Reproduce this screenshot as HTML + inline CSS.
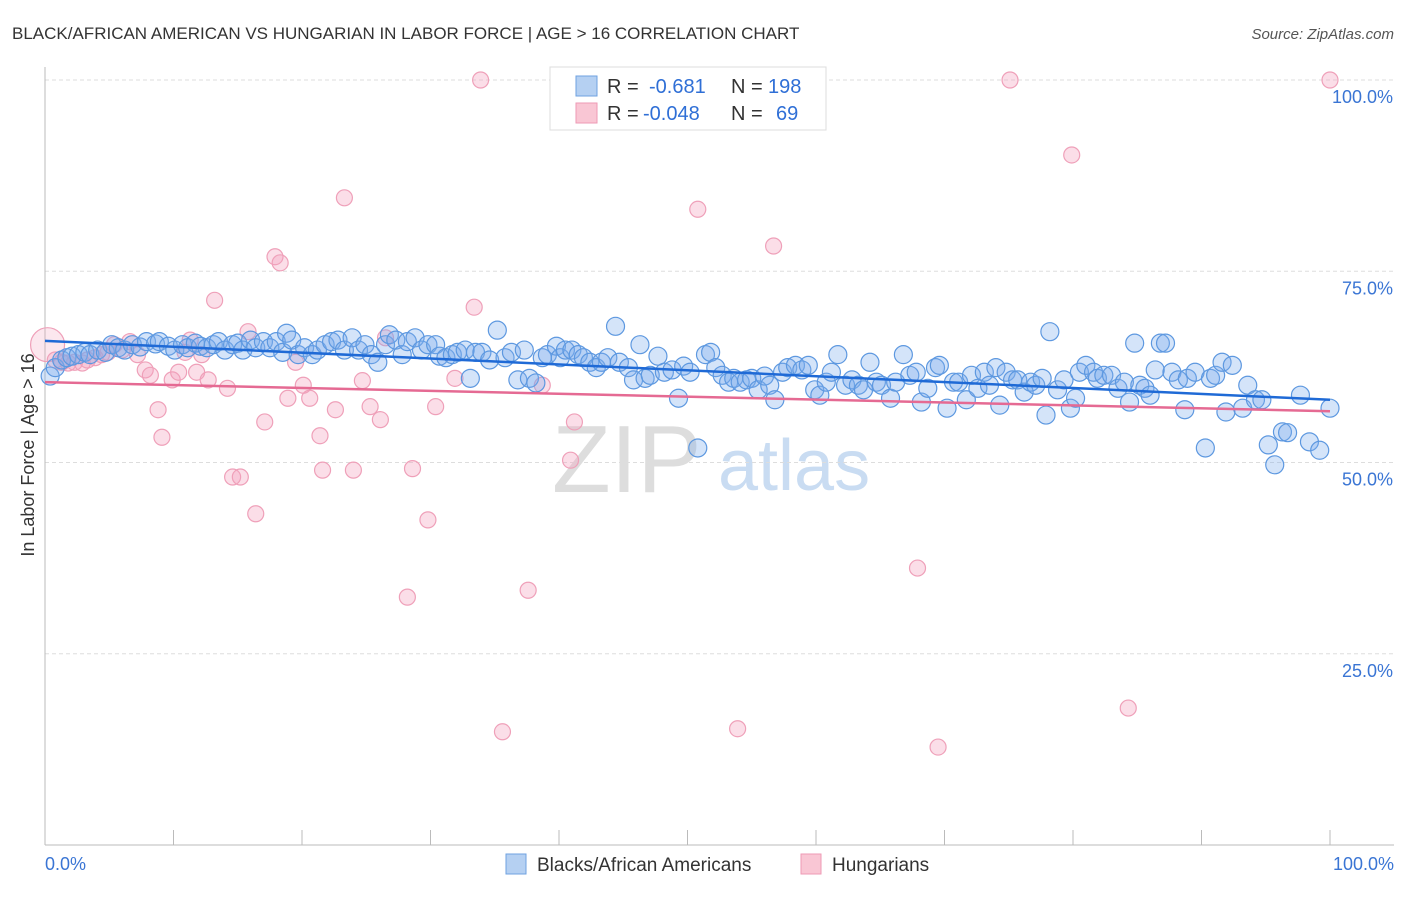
<!DOCTYPE html>
<html><head><meta charset="utf-8"><style>
body{margin:0;background:#fff;font-family:"Liberation Sans",sans-serif}
svg text{font-family:"Liberation Sans",sans-serif}
</style></head><body>
<svg id="c" width="1406" height="892" xmlns="http://www.w3.org/2000/svg">
<text x="12" y="39" font-size="17" fill="#333">BLACK/AFRICAN AMERICAN VS HUNGARIAN IN LABOR FORCE | AGE &gt; 16 CORRELATION CHART</text>
<text x="1394" y="39" font-size="15" fill="#555" text-anchor="end" font-style="italic">Source: ZipAtlas.com</text>
<g>
<text x="552" y="492" font-size="96" fill="#ddd" font-family="Liberation Serif">ZIP</text>
<text x="718" y="490" font-size="72" fill="#c9dcf2">atlas</text>
</g>
<g id="grid"></g><g id="axes"></g><g id="pts"></g><g id="trend"></g>
<g>
<rect x="550" y="67" width="276" height="63" fill="#fff" stroke="#ddd"/>
<rect x="576" y="76" width="21" height="20" fill="#b5d0f2" stroke="#6fa2e0"/>
<rect x="576" y="103" width="21" height="20" fill="#f9c6d4" stroke="#ee9ab5"/>
<text y="93" font-size="20" fill="#333"><tspan x="607">R =</tspan><tspan x="649" fill="#2f6fd6">-0.681</tspan><tspan x="731">N =</tspan><tspan x="768" fill="#2f6fd6">198</tspan></text>
<text y="120" font-size="20" fill="#333"><tspan x="607">R =</tspan><tspan x="643" fill="#2f6fd6">-0.048</tspan><tspan x="731">N =</tspan><tspan x="776" fill="#2f6fd6">69</tspan></text>
</g>
<g>
<rect x="506" y="854" width="20" height="20" fill="#b5d0f2" stroke="#6fa2e0"/>
<text x="537" y="871" font-size="19" fill="#333">Blacks/African Americans</text>
<rect x="801" y="854" width="20" height="20" fill="#f9c6d4" stroke="#ee9ab5"/>
<text x="832" y="871" font-size="19" fill="#333">Hungarians</text>
</g>
<text transform="translate(34,455) rotate(-90)" font-size="18" fill="#333" text-anchor="middle">In Labor Force | Age &gt; 16</text>
</svg>
<script>
const blueX=[0.4,0.8,1.3,1.7,2.1,2.6,3.1,3.5,4.1,4.7,5.2,5.7,6.2,6.8,7.4,7.9,8.6,8.9,9.6,10.1,10.7,11.1,11.7,12.1,12.6,13.1,13.5,14.0,14.6,15.0,15.4,16.0,16.4,17.0,17.5,18.0,18.5,18.8,19.2,19.7,20.2,20.8,21.2,21.8,22.3,22.8,23.3,23.9,24.4,24.9,25.4,25.9,26.5,26.8,27.3,27.8,28.2,28.8,29.3,29.8,30.4,30.7,31.2,31.7,32.1,32.7,33.1,33.5,34.0,34.6,35.2,35.8,36.3,36.8,37.3,37.7,38.2,38.7,39.1,39.8,40.1,40.5,41.0,41.5,41.9,42.4,42.9,43.3,43.8,44.4,44.7,45.4,45.8,46.3,46.7,47.1,47.7,48.2,48.8,49.3,49.7,50.2,50.8,51.4,51.8,52.2,52.7,53.2,53.6,54.1,54.6,55.0,55.5,56.0,56.4,56.8,57.4,57.8,58.4,58.9,59.4,59.9,60.3,60.8,61.2,61.7,62.3,62.8,63.3,63.7,64.2,64.7,65.1,65.8,66.2,66.8,67.3,67.8,68.2,68.7,69.3,69.6,70.2,70.7,71.1,71.7,72.1,72.6,73.1,73.5,74.0,74.3,74.8,75.3,75.7,76.2,76.7,77.1,77.6,77.9,78.2,78.8,79.3,79.8,80.2,80.5,81.0,81.6,81.9,82.4,83.0,83.5,84.0,84.4,84.8,85.2,85.6,86.0,86.4,86.8,87.2,87.7,88.2,88.7,88.9,89.5,90.3,90.7,91.1,91.6,91.9,92.4,93.2,93.6,94.2,94.7,95.2,95.7,96.3,96.7,97.7,98.4,99.2,100];
const blueY=[61.3,62.4,63.4,63.7,63.9,64.1,64.4,64.1,64.7,64.4,65.4,65.0,64.7,65.4,65.1,65.8,65.5,65.8,65.2,64.7,65.4,65.0,65.6,65.2,65.0,65.4,65.8,64.7,65.4,65.6,64.7,66.0,65.0,65.8,65.0,65.8,64.4,66.9,66.0,64.1,65.0,64.1,64.7,65.4,65.8,66.0,64.7,66.3,64.7,65.4,64.1,63.1,65.4,66.7,66.0,64.1,65.8,66.3,64.7,65.4,65.4,63.9,63.7,64.1,64.4,64.7,61.0,64.4,64.4,63.4,67.3,63.7,64.4,60.8,64.7,61.0,60.4,63.7,64.1,65.2,63.7,64.7,64.7,64.1,63.7,63.1,62.4,63.1,63.7,67.8,63.1,62.4,60.8,65.4,61.0,61.4,63.9,61.8,62.1,58.4,62.6,61.8,51.9,64.1,64.4,62.4,61.4,60.5,61.0,60.5,60.8,61.0,59.5,61.3,60.1,58.2,61.8,62.4,62.7,62.1,62.7,59.5,58.8,60.5,61.8,64.1,60.1,60.8,60.1,59.5,63.1,60.5,60.1,58.4,60.5,64.1,61.4,61.8,57.9,59.7,62.4,62.7,57.1,60.5,60.5,58.2,61.4,59.7,61.8,60.1,62.4,57.5,61.8,60.8,60.8,59.2,60.5,60.1,61.0,56.2,67.1,59.5,60.8,57.1,58.4,61.8,62.7,61.8,61.0,61.4,61.4,59.7,60.5,57.9,65.6,60.1,59.7,58.8,62.1,65.6,65.6,61.8,60.8,56.9,61.0,61.8,51.9,61.0,61.4,63.1,56.6,62.7,57.1,60.1,58.2,58.2,52.3,49.7,54.0,53.9,58.8,52.7,51.6,57.1];
const pinkX=[0.2,0.8,1.3,1.8,2.3,2.9,3.3,3.9,4.4,4.9,5.4,6.0,6.6,7.2,7.8,8.2,8.8,9.1,9.9,10.4,10.9,11.3,11.8,12.2,12.7,13.2,14.2,14.6,15.2,16.4,17.1,17.9,18.3,15.8,18.9,19.5,20.1,20.6,21.4,21.6,22.6,23.3,24.0,24.7,25.3,26.1,26.5,28.2,28.6,29.8,30.4,31.9,33.4,33.9,35.6,37.6,38.7,40.9,41.2,50.8,53.9,56.7,67.9,69.5,75.1,79.9,84.3,100];
const pinkY=[65.4,63.4,63.1,63.0,63.1,63.0,63.4,63.7,64.1,64.4,65.4,64.7,65.8,64.1,62.1,61.4,56.9,53.3,60.8,61.8,64.4,66.0,61.8,64.1,60.8,71.2,59.7,48.1,48.1,43.3,55.3,76.9,76.1,67.1,58.4,63.1,60.1,58.4,53.5,49.0,56.9,84.6,49.0,60.7,57.3,55.6,66.3,32.4,49.2,42.5,57.3,61.0,70.3,100,14.8,33.3,60.1,50.3,55.3,83.1,15.2,78.3,36.2,12.8,100,90.2,17.9,100];
const blueTrend=[65.9,58.2];
const pinkTrend=[60.5,56.7];
const yTicks=[25,50,75,100];
const yTickLabels=["25.0%","50.0%","75.0%","100.0%"];
const xTicks=[0,10,20,30,40,50,60,70,80,90,100];

const NS="http://www.w3.org/2000/svg";
const X=v=>45+v*12.85, Y=v=>845-v*7.65;
function mk(tag,attrs,parent){const e=document.createElementNS(NS,tag);for(const k in attrs)e.setAttribute(k,attrs[k]);document.getElementById(parent).appendChild(e);return e;}
yTicks.forEach((t,i)=>{
  const l=mk('line',{x1:45,x2:1394,y1:Y(t),y2:Y(t),stroke:'#ddd','stroke-dasharray':'4,3'},'grid');
  
  
  const tx=mk('text',{x:1393,y:Y(t)+23,'font-size':18,fill:'#3a75d4','text-anchor':'end'},'grid');
  tx.textContent=yTickLabels[i];
  
  
});
const ya=mk('line',{x1:45,x2:45,y1:67,y2:845,stroke:'#bbb'},'axes');


const xa=mk('line',{x1:45,x2:1394,y1:845,y2:845,stroke:'#bbb'},'axes');


xTicks.forEach(t=>{
  const l=mk('line',{x1:X(t),x2:X(t),y1:830,y2:845,stroke:'#bbb'},'axes');
  
  
});
const xl0=mk('text',{x:45,y:870,'font-size':18,fill:'#3a75d4'},'axes');xl0.textContent=xTicks[0].toFixed(1)+'%';


const xl1=mk('text',{x:1394,y:870,'font-size':18,fill:'#3a75d4','text-anchor':'end'},'axes');xl1.textContent=xTicks[xTicks.length-1].toFixed(1)+'%';


pinkX.forEach((v,i)=>{
  const c=mk('circle',{cx:X(v),cy:Y(pinkY[i]),r:i===0?17:8,fill:i===0?'rgba(244,160,188,0.25)':'rgba(244,160,188,0.35)',stroke:'#efa0b9','stroke-width':1.2},'pts');
  
  
});
blueX.forEach((v,i)=>{
  const c=mk('circle',{cx:X(v),cy:Y(blueY[i]),r:9,fill:'rgba(120,170,235,0.32)',stroke:'#5d98e0','stroke-width':1.2},'pts');
  
  
});
const bt=mk('line',{x1:X(0),x2:X(100),y1:Y(blueTrend[0]),y2:Y(blueTrend[1]),stroke:'#1f6ad6','stroke-width':2.5},'trend');


const pt=mk('line',{x1:X(0),x2:X(100),y1:Y(pinkTrend[0]),y2:Y(pinkTrend[1]),stroke:'#e56a93','stroke-width':2.5},'trend');


</script>
</body></html>
